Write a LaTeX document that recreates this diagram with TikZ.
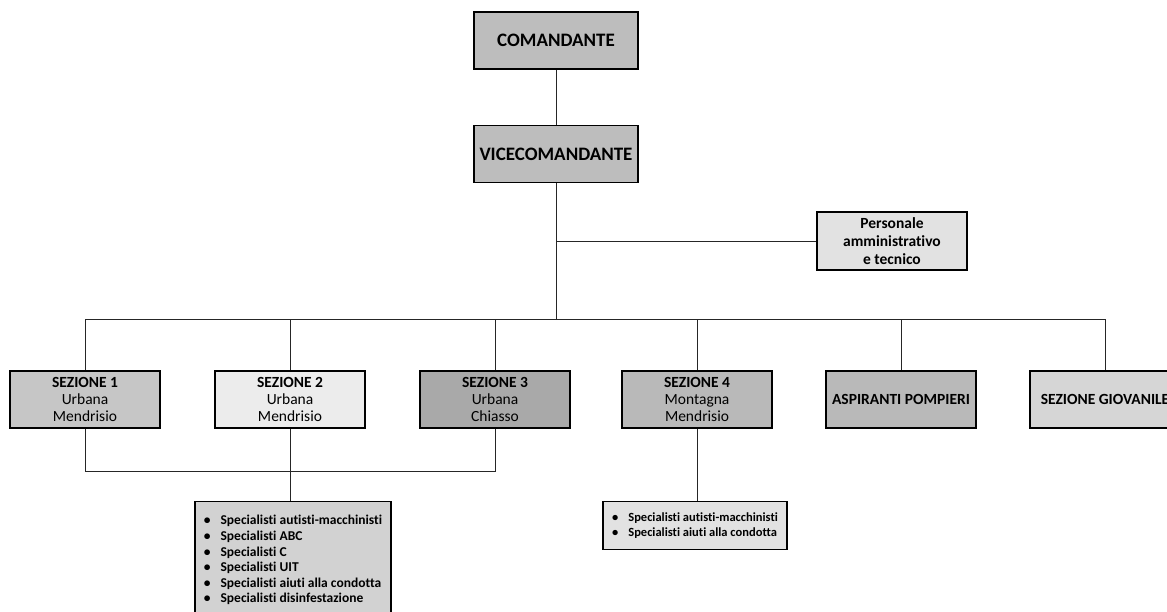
\documentclass[tikz,border=0pt]{standalone}
\usepackage{fontspec}
\setmainfont{Carlito}[Ligatures=NoCommon]
\usepackage{tikz}
\usetikzlibrary{calc}
\usepackage{xcolor}
\definecolor{cmdgray}{HTML}{BDBDBD}
\definecolor{persgray}{HTML}{E2E2E2}
\definecolor{sezA}{HTML}{C6C6C6}
\definecolor{sezB}{HTML}{ECECEC}
\definecolor{sezC}{HTML}{A9A9A9}
\definecolor{sezD}{HTML}{B9B9B9}
\definecolor{sezE}{HTML}{D6D6D6}
\definecolor{listgray}{HTML}{D2D2D2}
\tikzset{
  box/.style={draw=black, line width=1.4pt, inner sep=2pt, align=center},
  topbox/.style={box, fill=cmdgray, minimum width=164pt, minimum height=57pt, font=\bfseries\fontsize{19}{22}\selectfont},
  sezbox/.style={box, minimum width=150pt, minimum height=57pt, font=\fontsize{15.5}{17}\selectfont},
  listbox/.style={box, anchor=north, fill=listgray},
  link/.style={line width=1pt, draw=black!85},
}

\begin{document}
\begin{tikzpicture}[x=1pt, y=-1pt]  % 1 px = 1 pt
  \path[use as bounding box] (0,0) rectangle (1167,611);
  \clip (0,0) rectangle (1167,611);
  % Comando
  \node[topbox] (coman) at (556,40.5) {COMANDANTE};
  \node[topbox] (vice) at (556,154) {VICECOMANDANTE};
  \node[box, fill=persgray, minimum width=150pt, minimum height=58pt, font=\bfseries\fontsize{15.5}{18}\selectfont] (pers) at (892,241) {Personale\\amministrativo\\e tecnico};
  \coordinate (bus) at (0,319);
  \coordinate (low) at (0,471);
  % Sezioni
  \node[sezbox, fill=sezA] (sez1) at (85,399.5) {\textbf{SEZIONE 1}\\Urbana\\Mendrisio};
  \node[sezbox, fill=sezB] (sez2) at (290,399.5) {\textbf{SEZIONE 2}\\Urbana\\Mendrisio};
  \node[sezbox, fill=sezC] (sez3) at (495,399.5) {\textbf{SEZIONE 3}\\Urbana\\Chiasso};
  \node[sezbox, fill=sezD] (sez4) at (697,399.5) {\textbf{SEZIONE 4}\\Montagna\\Mendrisio};
  \node[sezbox, fill=sezD, font=\bfseries\fontsize{15.5}{17}\selectfont] (aspir) at (901,399.5) {ASPIRANTI POMPIERI};
  \node[sezbox, fill=sezE, font=\bfseries\fontsize{15.5}{17}\selectfont] (giov) at (1105,399.5) {SEZIONE GIOVANILE};
  % Specialisti
  \node[listbox, minimum width=196pt, minimum height=118pt, font=\bfseries\fontsize{13.5}{15.6}\selectfont] (spec1) at (293,501) {%
    \begin{tabular}{@{}l@{\hspace{10pt}}l@{}}
      \textbullet & Specialisti autisti-macchinisti\\
      \textbullet & Specialisti ABC\\
      \textbullet & Specialisti C\\
      \textbullet & Specialisti UIT\\
      \textbullet & Specialisti aiuti alla condotta\\
      \textbullet & Specialisti disinfestazione
    \end{tabular}};
  \node[listbox, fill=persgray, minimum width=184pt, minimum height=48pt, font=\bfseries\fontsize{12.5}{15}\selectfont] (spec2) at (695,501) {%
    \begin{tabular}{@{}l@{\hspace{10pt}}l@{}}
      \textbullet & Specialisti autisti-macchinisti\\
      \textbullet & Specialisti aiuti alla condotta
    \end{tabular}};
  % Collegamenti
  \draw[link] (coman) -- (vice);
  \draw[link] (vice.south) -- (vice.south |- bus);
  \draw[link] (vice.south |- pers) -- (pers.west);
  \draw[link] (sez1 |- bus) -- (giov |- bus);
  \foreach \s in {sez1,sez2,sez3,sez4,aspir,giov}
    \draw[link] (\s |- bus) -- (\s.north);
  \draw[link] (sez1.south) -- (sez1 |- low) -- (sez3 |- low) -- (sez3.south);
  \draw[link] (sez2.south) -- (sez2.south |- spec1.north);
  \draw[link] (sez4.south) -- (sez4.south |- spec2.north);
\end{tikzpicture}
\end{document}
